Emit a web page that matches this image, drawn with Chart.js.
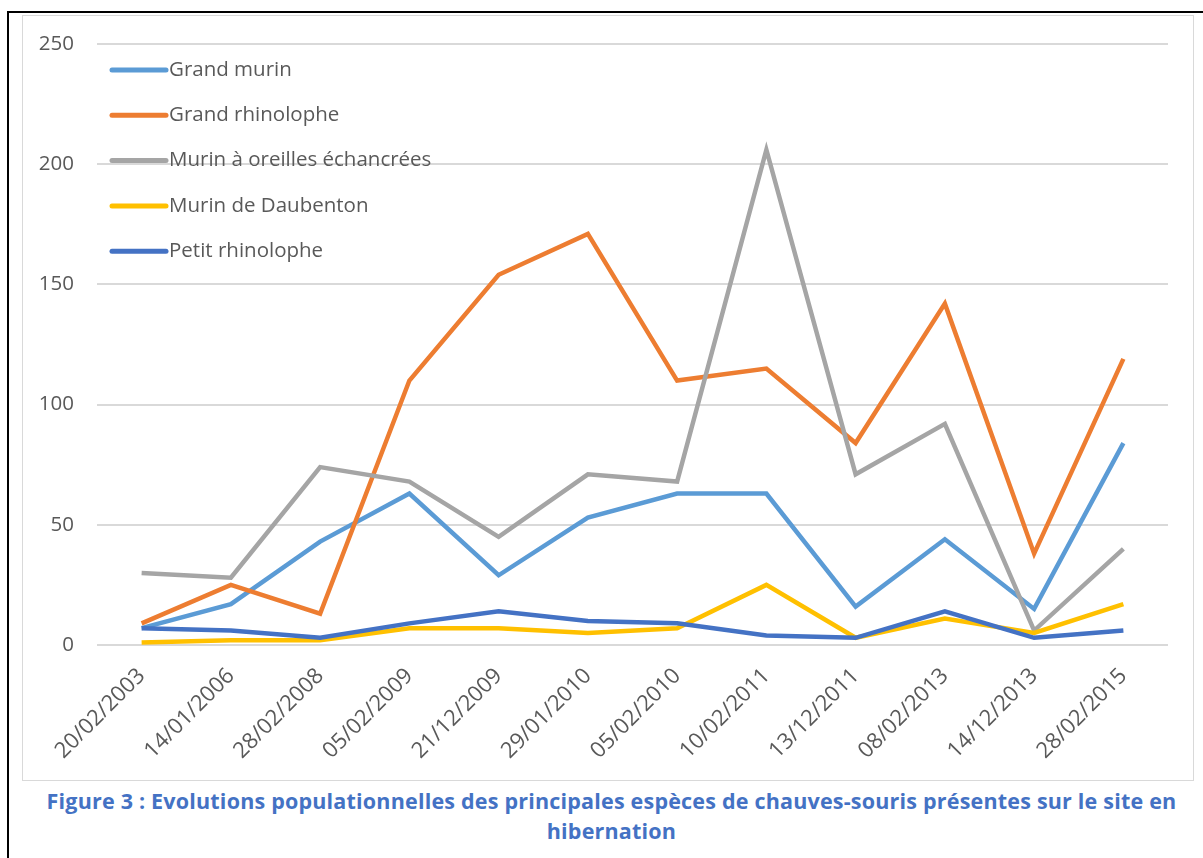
<!DOCTYPE html>
<html>
<head>
<meta charset="utf-8">
<script src="https://cdn.jsdelivr.net/npm/chart.js@4.4.0/dist/chart.umd.min.js"></script>
<style>
    body { margin: 0; background: #fff; width: 1203px; height: 858px; position: relative; overflow: hidden; }
    #outer { position: absolute; left: 7px; top: 11px; width: 1210px; height: 860px; border-left: 2px solid #000; border-top: 2px solid #000; }
    #frame { position: absolute; left: 22px; top: 15px; width: 1172px; height: 766px; border: 1px solid #D9D9D9; box-sizing: border-box; }
    #caption { position: absolute; left: 20px; width: 1183px; top: 786px; text-align: center; color: #4472C4; font-family: "Open Sans", sans-serif; font-weight: bold; font-size: 21.5px; letter-spacing: 0.2px; line-height: 30px; white-space: nowrap; }
</style>
</head>
<body>
<div id="outer"></div>
<div id="frame"><canvas id="lineChart" width="1170" height="764"></canvas></div>
<div id="caption">Figure 3 : Evolutions populationnelles des principales espèces de chauves-souris présentes sur le site en<br>hibernation</div>
<script>
const dates = ['20/02/2003', '14/01/2006', '28/02/2008', '05/02/2009', '21/12/2009', '29/01/2010',
    '05/02/2010', '10/02/2011', '13/12/2011', '08/02/2013', '14/12/2013', '28/02/2015'];
const grandMurin = [7, 17, 43, 63, 29, 53, 63, 63, 16, 44, 15, 84];
const grandRhinolophe = [9, 25, 13, 110, 154, 171, 110, 115, 84, 142, 38, 119];
const murinOreilles = [30, 28, 74, 68, 45, 71, 68, 206, 71, 92, 6, 40];
const murinDaubenton = [1, 2, 2, 7, 7, 5, 7, 25, 3, 11, 5, 17];
const petitRhinolophe = [7, 6, 3, 9, 14, 10, 9, 4, 3, 14, 3, 6];

const font = 'Open Sans';

// legend drawn inside the plot, top-left, one entry per line
const insideLegend = {
    id: 'insideLegend',
    afterDraw(chart) {
        const ctx = chart.ctx;
        ctx.save();
        ctx.font = '20.5px "' + font + '"';
        ctx.textBaseline = 'middle';
        chart.data.datasets.forEach((ds, i) => {
            const y = 54 + i * 45.3;
            ctx.strokeStyle = ds.borderColor;
            ctx.lineWidth = 5;
            ctx.lineCap = 'round';
            ctx.beginPath();
            ctx.moveTo(89, y);
            ctx.lineTo(143, y);
            ctx.stroke();
            ctx.fillStyle = '#595959';
            ctx.fillText(ds.label, 146, y);
        });
        ctx.restore();
    }
};

const lineData = {
    labels: dates,
    datasets: [
        { label: 'Grand murin', data: grandMurin, borderColor: '#5B9BD5', order: 4 },
        { label: 'Grand rhinolophe', data: grandRhinolophe, borderColor: '#ED7D31', order: 3 },
        { label: 'Murin à oreilles échancrées', data: murinOreilles, borderColor: '#A5A5A5', order: 2 },
        { label: 'Murin de Daubenton', data: murinDaubenton, borderColor: '#FFC000', order: 1 },
        { label: 'Petit rhinolophe', data: petitRhinolophe, borderColor: '#4472C4', order: 0 }
    ]
};

let lineChart = document.getElementById('lineChart');
if (lineChart) {
    new Chart('lineChart', {
        type: 'line',
        data: lineData,
        options: {
            responsive: false,
            animation: false,
            layout: { padding: { top: 28, right: 25, left: 0, bottom: 0 } },
            elements: {
                line: { borderWidth: 4.5, tension: 0, fill: false },
                point: { radius: 0 }
            },
            plugins: {
                legend: { display: false },
                tooltip: { enabled: false }
            },
            scales: {
                x: {
                    offset: true,
                    grid: { display: false },
                    border: { display: false },
                    ticks: {
                        color: '#595959',
                        font: { family: font, size: 22 },
                        minRotation: 45,
                        maxRotation: 45,
                        padding: 10,
                        autoSkip: false
                    },
                    afterFit(scale) {
                        scale.height = 135;
                        scale.paddingLeft = 0;
                        scale.paddingRight = 0;
                    }
                },
                y: {
                    min: 0,
                    max: 250,
                    grid: { color: '#D9D9D9', lineWidth: 2, drawTicks: false },
                    border: { display: false },
                    ticks: {
                        stepSize: 50,
                        color: '#595959',
                        font: { family: font, size: 20.5 },
                        padding: 23
                    },
                    afterFit(scale) {
                        scale.width = 74;
                        scale.paddingTop = 0;
                        scale.paddingBottom = 0;
                    }
                }
            }
        },
        plugins: [insideLegend]
    });
}
</script>
</body>
</html>
